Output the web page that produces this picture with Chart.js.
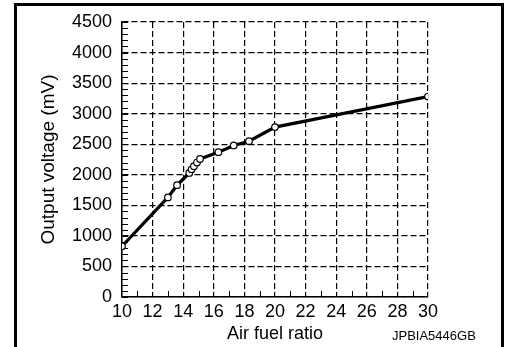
<!DOCTYPE html>
<html>
<head>
<meta charset="utf-8">
<script src="https://cdn.jsdelivr.net/npm/chart.js@4/dist/chart.umd.min.js"></script>
<style>
    body { margin: 0; background: #fff; }
    #wrap { position: relative; width: 506px; height: 347px; overflow: hidden; }
    #frame {
        position: absolute; left: 14px; top: 3px; width: 484px; height: 400px;
        border: 3px solid #000; border-bottom: none;
    }
    #code {
        position: absolute; left: 392px; top: 329px;
        font: 13px "Liberation Sans", Arial, sans-serif; line-height: 13px; color: #000;
    }
    canvas { position: absolute; left: 0; top: 0; }
</style>
</head>
<body>
<div id="wrap">
    <div id="frame"></div>
    <canvas id="afrChart" width="506" height="347"></canvas>
    <div id="code">JPBIA5446GB</div>
</div>
<script>
// air fuel ratio vs sensor output voltage
const airFuelRatio = [10, 13.0, 13.6, 14.4, 14.55, 14.7, 14.9, 15.1, 16.3, 17.3, 18.3, 20.0, 30];
const outputVoltage = [830, 1630, 1830, 2030, 2090, 2140, 2200, 2260, 2370, 2480, 2550, 2780, 3280];
const xTicks = [10, 12, 14, 16, 18, 20, 22, 24, 26, 28, 30];
const yTicks = [0, 500, 1000, 1500, 2000, 2500, 3000, 3500, 4000, 4500];
const xMinorTicks = [11, 13, 15, 17, 19, 21, 23, 25, 27, 29];
const yMinorStep = 100;

const FONT = '"Liberation Sans", Arial, sans-serif';

// small tick marks pointing into the plot
const minorTicks = {
    id: 'minorTicks',
    beforeDatasetsDraw(chart) {
        const ctx = chart.ctx;
        const x = chart.scales.x;
        const y = chart.scales.y;
        ctx.save();
        ctx.strokeStyle = '#000';
        ctx.lineWidth = 1;
        ctx.beginPath();
        for (let v = 0; v <= 4500; v += yMinorStep) {
            const py = Math.round(y.getPixelForValue(v)) + 0.5;
            ctx.moveTo(x.left, py);
            ctx.lineTo(x.left + 6, py);
        }
        xMinorTicks.forEach(function(v) {
            const px = Math.round(x.getPixelForValue(v)) + 0.5;
            ctx.moveTo(px, y.bottom);
            ctx.lineTo(px, y.bottom - 6);
        });
        ctx.stroke();
        ctx.restore();
    }
};

function plainLabel(value) {
    return String(value);
}

const ctx = document.getElementById('afrChart');
new Chart(ctx, {
    type: 'scatter',
    data: {
        datasets: [{
            data: airFuelRatio.map(function(v, i) { return {x: v, y: outputVoltage[i]}; }),
            showLine: true,
            borderColor: '#000',
            borderWidth: 3.2,
            pointRadius: 3.3,
            pointBackgroundColor: '#fff',
            pointBorderColor: '#000',
            pointBorderWidth: 1.2,
            tension: 0
        }]
    },
    options: {
        responsive: false,
        animation: false,
        events: [],
        layout: { padding: { left: 0, right: 78, top: 22, bottom: 0 } },
        plugins: { legend: { display: false }, tooltip: { enabled: false } },
        scales: {
            x: {
                type: 'linear',
                min: 10,
                max: 30,
                afterBuildTicks(scale) { scale.ticks = xTicks.map(function(v) { return {value: v}; }); },
                afterFit(scale) { scale.height = 50; },
                ticks: { color: '#000', padding: 4, font: { family: FONT, size: 18 }, maxRotation: 0, callback: plainLabel },
                grid: { color: '#000', lineWidth: 1.2, drawTicks: false },
                border: { display: true, color: '#000', width: 1.5, dash: [6, 3] },
                title: {
                    display: true, text: 'Air fuel ratio', color: '#000',
                    font: { family: FONT, size: 18 }, padding: { top: 0, bottom: 2 }
                }
            },
            y: {
                type: 'linear',
                min: 0,
                max: 4500,
                afterBuildTicks(scale) { scale.ticks = yTicks.map(function(v) { return {value: v}; }); },
                afterFit(scale) { scale.width = 122; },
                ticks: { color: '#000', padding: 10, font: { family: FONT, size: 18 }, callback: plainLabel },
                grid: { color: '#000', lineWidth: 1.2, drawTicks: false },
                border: { display: true, color: '#000', width: 1.5, dash: [6, 3] },
                title: {
                    display: true, text: 'Output voltage (mV)', color: '#000',
                    font: { family: FONT, size: 19 }, padding: { top: 37, bottom: 0 }
                }
            }
        }
    },
    plugins: [minorTicks]
});
</script>
</body>
</html>
